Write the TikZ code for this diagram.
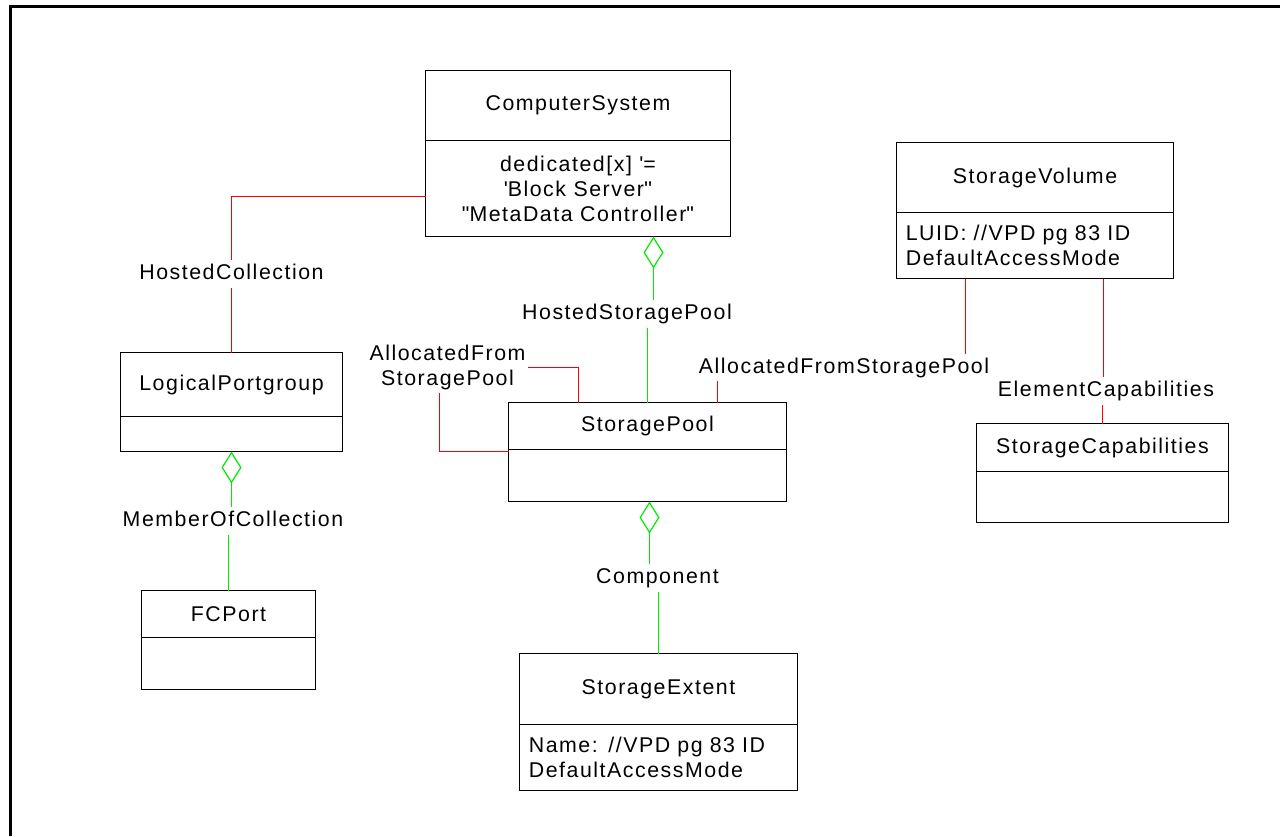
\documentclass[tikz,border=0pt]{standalone}
\usepackage{fontspec}
\setmainfont{Liberation Sans}[LetterSpace=7.2]
\usetikzlibrary{arrows.meta,positioning}
\definecolor{assocred}{RGB}{255,0,0}
\definecolor{agggreen}{RGB}{0,235,0}
\newcommand*{\px}{0.75pt}

\begin{document}
\begin{tikzpicture}[x=0.75pt,y=-0.75pt,
    every node/.style={font=\fontsize{16}{18.75}\selectfont},
    classtitle/.style={draw,line width=0.8pt,fill=white,inner sep=0pt,outer sep=0pt},
    classattr/.style={draw,line width=0.8pt,fill=white,inner sep=0pt,outer sep=0pt},
    rel/.style={inner sep=2.2pt,text height=12pt,text depth=3.5pt},
    assoc/.style={draw=assocred,line width=0.9pt},
    aggline/.style={draw=agggreen,line width=0.9pt},
    aggr/.style={aggline,arrows={Diamond[open,length=24pt,width=15pt]-}}
  ]
  \useasboundingbox (0,0) rectangle (1280,836);
  \fill[white] (0,0) rectangle (1280,836);
  \draw[line width=2.5*\px] (10.3,836) -- (10.3,6.7) -- (1280,6.7);

  % classes
  \node[classtitle,minimum width=305*\px,minimum height=70*\px] (cs) at (578,105.5) {ComputerSystem};
  \node[classattr,minimum width=305*\px,minimum height=96*\px,align=center,below=0pt of cs] (cs-a)
    {dedicated[x] \textquotesingle=\\ \textquotesingle Block Server\textquotesingle\textquotesingle\\\textquotedbl MetaData Controller\textquotedbl};

  \node[classtitle,minimum width=277*\px,minimum height=70*\px] (sv) at (1035,177.5) {StorageVolume};
  \node[classattr,text width=277*\px-14pt,inner xsep=7pt,minimum height=66*\px,align=left,below=0pt of sv] (sv-a)
    {LUID: //VPD pg 83 ID\\DefaultAccessMode};

  \node[classtitle,minimum width=222*\px,minimum height=64*\px] (lp) at (231.5,384.5) {LogicalPortgroup};
  \node[classattr,minimum width=222*\px,minimum height=35*\px,below=0pt of lp] (lp-a) {};

  \node[classtitle,minimum width=278*\px,minimum height=47*\px] (sp) at (647.5,426) {StoragePool};
  \node[classattr,minimum width=278*\px,minimum height=52*\px,below=0pt of sp] (sp-a) {};

  \node[classtitle,minimum width=252*\px,minimum height=48*\px] (sc) at (1102.5,447.5) {StorageCapabilities};
  \node[classattr,minimum width=252*\px,minimum height=51*\px,below=0pt of sc] (sc-a) {};

  \node[classtitle,minimum width=174*\px,minimum height=47*\px] (fc) at (228.5,614) {FCPort};
  \node[classattr,minimum width=174*\px,minimum height=52*\px,below=0pt of fc] (fc-a) {};

  \node[classtitle,minimum width=278*\px,minimum height=71*\px] (se) at (658.5,689) {StorageExtent};
  \node[classattr,text width=278*\px-14pt,inner xsep=7pt,minimum height=66*\px,align=left,below=0pt of se] (se-a)
    {Name: //VPD pg 83 ID\\DefaultAccessMode};

  % association labels
  \node[rel] (hc) at (231.5,274) {HostedCollection};
  \node[rel] (hsp) at (627,314) {HostedStoragePool};
  \node[inner sep=2pt,align=center] (afsp1) at (447.5,367.5) {AllocatedFrom\\StoragePool};
  \node[rel] (afsp2) at (844,367.5) {AllocatedFromStoragePool};
  \node[rel] (ec) at (1106,391) {ElementCapabilities};
  \node[rel] (moc) at (233,521) {MemberOfCollection};
  \node[rel] (comp) at (657.5,578) {Component};

  % connectors
  \draw[assoc] ([yshift=-8*\px]cs-a.west) -| (hc.north);
  \draw[assoc] (hc.south) -- (hc.south |- lp.north);

  \draw[aggr] ([xshift=75.5*\px]cs-a.south) -- ([xshift=75.5*\px]cs-a.south |- hsp.north);
  \draw[aggline] (hsp.south -| sp.north) -- (sp.north);

  \draw[assoc] ([xshift=-69*\px]sp.north) |- (afsp1.east);
  \draw[assoc] ([xshift=-8*\px]afsp1.south) |- ([yshift=-2*\px]sp-a.north west);

  \draw[assoc] ([xshift=-69.5*\px]sv-a.south) -- ([xshift=-69.5*\px]sv-a.south |- afsp2.north);
  \draw[assoc] ([xshift=70*\px]sp.north) -- ([xshift=70*\px]sp.north |- afsp2.south);

  \draw[assoc] ([xshift=68.5*\px]sv-a.south) -- ([xshift=68.5*\px]sv-a.south |- ec.north);
  \draw[assoc] (sc.north) -- (sc.north |- ec.south);

  \draw[aggr] (lp-a.south) -- (lp-a.south |- moc.north);
  \draw[aggline] (fc.north) -- (fc.north |- moc.south);

  \draw[aggr] ([xshift=2*\px]sp-a.south) -- ([xshift=2*\px]sp-a.south |- comp.north);
  \draw[aggline] (se.north) -- (se.north |- comp.south);
\end{tikzpicture}
\end{document}
